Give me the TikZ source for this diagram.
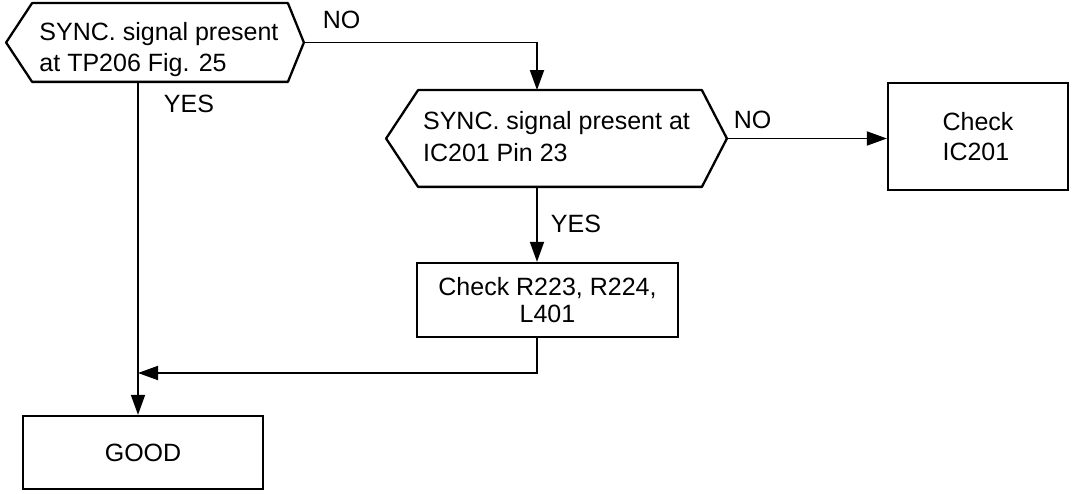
\documentclass[tikz,border=0pt]{standalone}
\usepackage{fontspec}
\setmainfont{Liberation Sans}
\usetikzlibrary{arrows.meta,calc}
\begin{document}
\begin{tikzpicture}[x=1pt,y=-1pt,
  font=\fontsize{25}{31}\selectfont,
  line width=1.8pt,
  box/.style={draw,line width=2.3pt,inner sep=0pt,align=center},
  hexnode/.style={inner sep=0pt,align=left},
  hexline/.style={line width=2.3pt,line join=round},
  arr/.style={-{Triangle[length=20pt,width=14pt]}},
  lbl/.style={anchor=west,inner sep=0pt}]
\useasboundingbox (0,0) rectangle (1074,494);

% decision 1
\node[inner sep=0pt,minimum width=296pt,minimum height=77pt] (h1) at (155,42.5) {};
\draw[hexline] (h1.west) -- ($(h1.north west)+(26,0)$) -- ($(h1.north east)+(-16,0)$)
  -- (h1.east) -- ($(h1.south east)+(-16,0)$) -- ($(h1.south west)+(26,0)$) -- cycle;
\node[hexnode] (t1) at ($(h1.center)+(4,7)$) {SYNC. signal present\\at TP206 Fig. 25};

% decision 2
\node[inner sep=0pt,minimum width=339pt,minimum height=95pt] (h2) at (556.5,138.5) {};
\draw[hexline] (h2.west) -- ($(h2.north west)+(32,0)$) -- ($(h2.north east)+(-25,0)$)
  -- (h2.east) -- ($(h2.south east)+(-25,0)$) -- ($(h2.south west)+(32,0)$) -- cycle;
\node[hexnode,font=\fontsize{25}{32}\selectfont] (t2) at ($(h2.center)+(0,-2)$)
  {SYNC. signal present at\\IC201 Pin 23};

% boxes
\node[box,align=left,minimum width=180pt,minimum height=107pt,font=\fontsize{25}{30}\selectfont] (ic) at (978,136.5) {Check\\IC201};
\node[box,minimum width=261pt,minimum height=74pt,font=\fontsize{25}{27}\selectfont] (chk) at (547.5,300) {Check R223, R224,\\L401};
\node[box,minimum width=240pt,minimum height=73pt] (good) at (143,452.5) {GOOD};

% helper coordinates
\coordinate (mx) at (537,0);
\coordinate (lx) at (138,0);
\coordinate (mg) at (138,373);

% connectors
\draw[arr] (h1.east) -| (h2.north -| mx);
\draw[arr] (h2.east) -- (h2.east -| ic.west);
\draw[arr] (h2.south -| mx) -- (chk.north -| mx);
\draw[arr] (chk.south -| mx) |- (mg);
\draw[arr] (h1.south -| lx) -- (good.north -| lx);

% labels
\node[lbl] (no1) at (322,19.5) {NO};
\node[lbl] (no2) at (733,120) {NO};
\node[lbl] (yes1) at (163,103.5) {YES};
\node[lbl] (yes2) at (550,223.5) {YES};
\end{tikzpicture}
\end{document}
